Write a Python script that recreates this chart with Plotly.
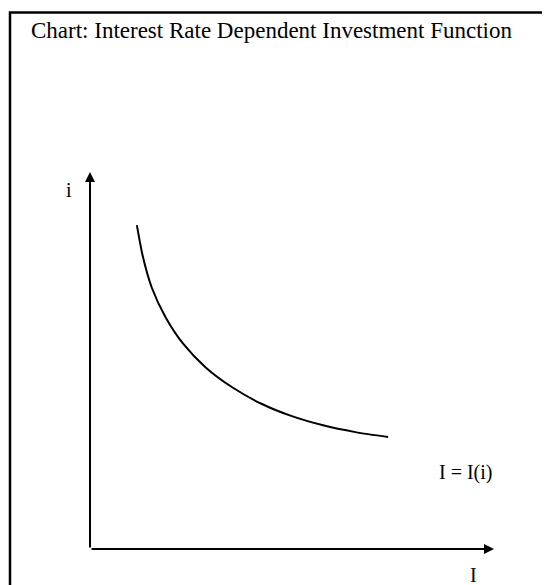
import plotly.graph_objects as go

# investment curve I = I(i) (I on x, i on y)
invest = [1.16, 1.31, 1.53, 1.87, 2.31, 2.87, 3.52, 4.23, 4.98, 5.77, 6.57, 7.38]
rate = [8.59, 7.75, 6.93, 6.15, 5.44, 4.81, 4.29, 3.86, 3.53, 3.28, 3.10, 2.97]

axis_max = 10
title_text = "Chart: Interest Rate Dependent Investment Function"
curve_label = "I = I(i)"
x_label = "I"
y_label = "i"

serif = "Liberation Serif, Times New Roman, serif"
font = dict(family=serif, size=20, color="black")

fig = go.Figure()
fig.add_trace(go.Scatter(
    x=invest, y=rate, mode="lines",
    line=dict(color="black", width=2, shape="spline", smoothing=0.8),
    hoverinfo="skip", showlegend=False
))

# axes drawn as arrows
for x, y in [(axis_max, 0), (0, axis_max)]:
    fig.add_annotation(
        x=x, y=y, ax=0, ay=0, xref="x", yref="y", axref="x", ayref="y",
        text="", showarrow=True, arrowhead=2, arrowsize=1, arrowwidth=2,
        arrowcolor="black"
    )

fig.add_annotation(x=8.59, y=2.02, text=curve_label,
                   showarrow=False, xanchor="left", font=font)
fig.add_annotation(x=9.50, y=-0.69, text=x_label, showarrow=False, font=font)
fig.add_annotation(x=-0.52, y=9.52, text=y_label, showarrow=False, font=font)
fig.add_annotation(x=21 / 542, y=1 - 23 / 577, xref="paper", yref="paper",
                   text=title_text, showarrow=False, xanchor="left", yanchor="middle",
                   font=dict(family=serif, size=23, color="black"))

# frame around the whole picture (right and bottom edges fall outside)
fig.add_shape(type="rect", xref="paper", yref="paper",
              x0=2 / 542, x1=1.2, y0=-0.2, y1=1 - 4.5 / 577,
              line=dict(color="black", width=2.5))

# page body has an 8px margin, so the figure is 8px smaller each way
fig.update_xaxes(range=[-82 / 40.4, 460 / 40.4], visible=False, fixedrange=True)
fig.update_yaxes(range=[-36 / 37.7, 541 / 37.7], visible=False, fixedrange=True)
fig.update_layout(
    width=542, height=577,
    margin=dict(l=0, r=0, t=0, b=0),
    plot_bgcolor="white", paper_bgcolor="white",
    showlegend=False
)

fig.write_html("out.html", config={"displayModeBar": False})
